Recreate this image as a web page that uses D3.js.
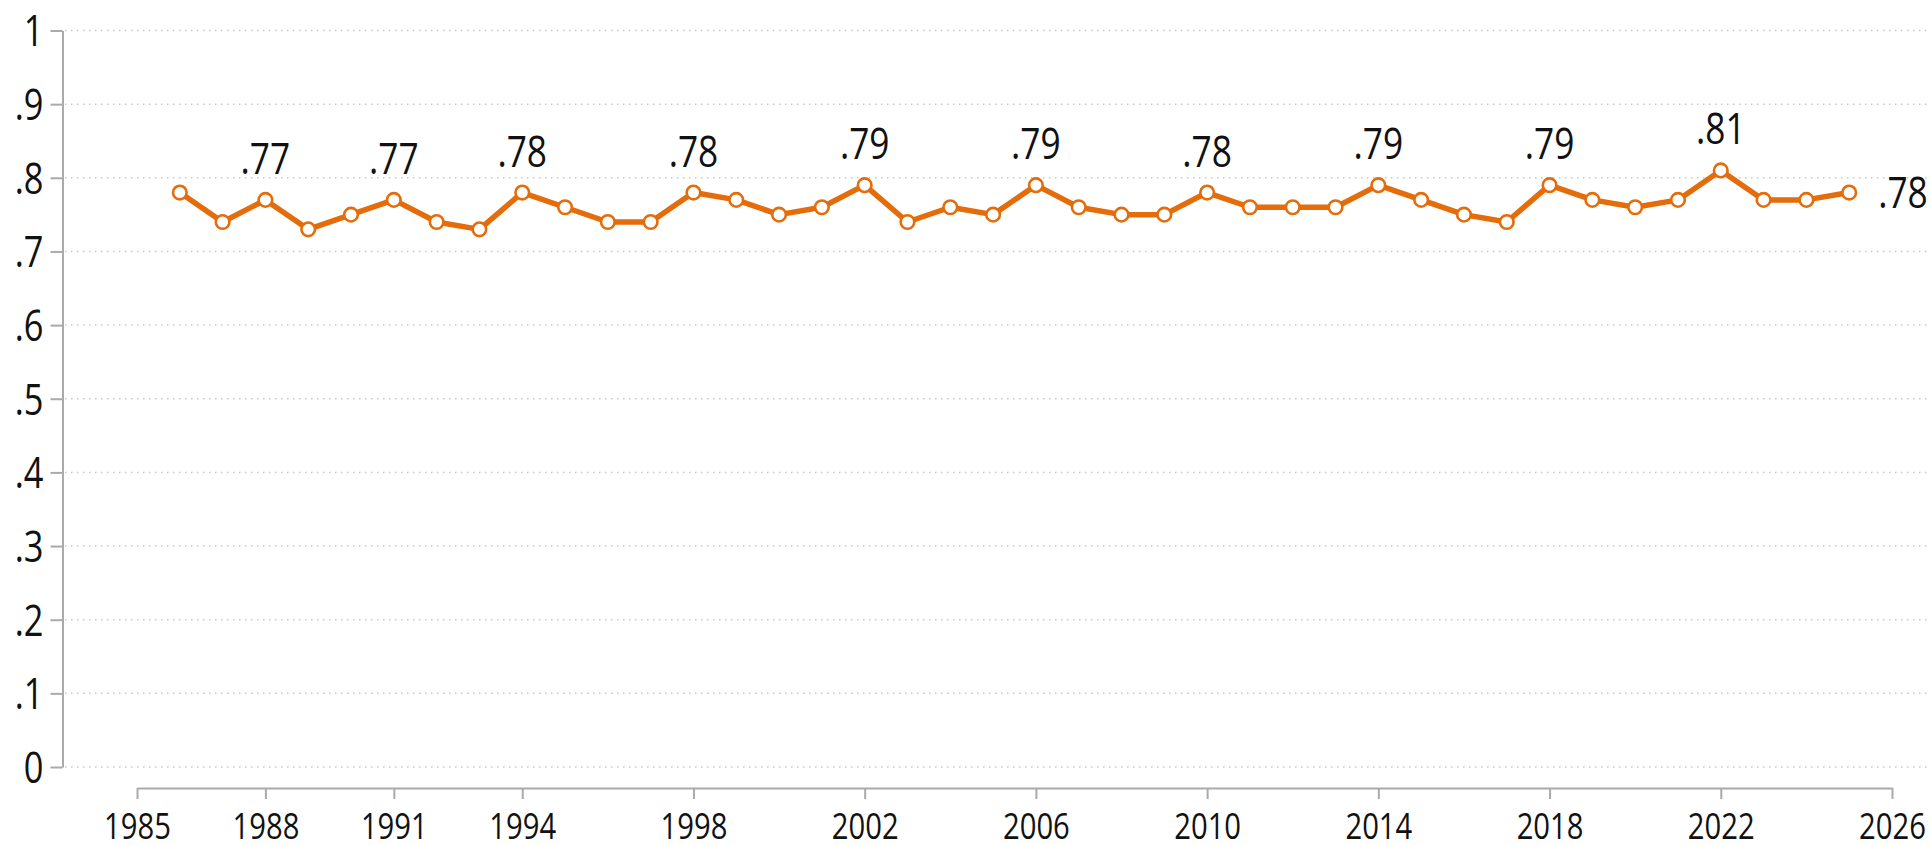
<!DOCTYPE html>
<html>
<head>
<meta charset="utf-8">
<script src="https://cdn.jsdelivr.net/npm/d3@7"></script>
<style>
  body { margin: 0; background: #fff; }
  text { font-family: "Open Sans", "Noto Sans", sans-serif; fill: #111; }
</style>
</head>
<body>
<div id="chart"></div>
<script>
const years = d3.range(1986, 2026);
const values = [.78, .74, .77, .73, .75, .77, .74, .73, .78, .76,
                .74, .74, .78, .77, .75, .76, .79, .74, .76, .75,
                .79, .76, .75, .75, .78, .76, .76, .76, .79, .77,
                .75, .74, .79, .77, .76, .77, .81, .77, .77, .78];
const labelYears = [1988, 1991, 1994, 1998, 2002, 2006, 2010, 2014, 2018, 2022];
const endYear = 2025;
const xTicks = [1985, 1988, 1991, 1994, 1998, 2002, 2006, 2010, 2014, 2018, 2022, 2026];
const yTicks = [0, .1, .2, .3, .4, .5, .6, .7, .8, .9, 1];

const width = 1931;
const height = 845;
const orange = "#e46c0a";

const data = years.map((y, i) => ({year: y, value: values[i]}));

const svg = d3.select("#chart")
    .append("svg")
    .attr("width", width)
    .attr("height", height)
    .attr("viewBox", [0, 0, width, height]);

const x = d3.scaleLinear()
    .domain([1985, 2026])
    .range([137, 1892]);
const y = d3.scaleLinear()
    .domain([0, 1])
    .range([767, 30.5]);

const fmt = d => d === 0 ? "0" : d === 1 ? "1" : d3.format(".1f")(d).replace(/^0/, "");
const fmt2 = d => d3.format(".2f")(d).replace(/^0/, "");

// squeeze the text a bit, the original font is a condensed one
function condense(sel, k) {
    sel.each(function () {
        const w = this.getComputedTextLength();
        d3.select(this)
            .attr("textLength", w * k)
            .attr("lengthAdjust", "spacingAndGlyphs");
    });
}

// gridlines
svg.append("g")
    .selectAll("line")
    .data(yTicks)
    .join("line")
    .attr("x1", 65)
    .attr("x2", width)
    .attr("y1", d => y(d))
    .attr("y2", d => y(d))
    .attr("stroke", "#c8c8c8")
    .attr("stroke-width", 1.5)
    .attr("stroke-dasharray", "1.5,4.5");

// y axis
const yAxis = svg.append("g")
    .attr("transform", "translate(62.5,0)")
    .call(d3.axisLeft(y).tickValues(yTicks).tickFormat(fmt).tickSize(12).tickSizeOuter(0));
yAxis.select(".domain").attr("stroke", "#aaa").attr("stroke-width", 2);
yAxis.selectAll(".tick line").attr("stroke", "#aaa").attr("stroke-width", 2);
yAxis.selectAll(".tick text")
    .attr("x", -19)
    .attr("dy", "0.36em")
    .style("font-size", "43px")
    .attr("fill", "#111")
    .call(condense, 0.8);

// x axis
const xAxis = svg.append("g")
    .attr("transform", "translate(0,788)")
    .call(d3.axisBottom(x).tickValues(xTicks).tickFormat(d3.format("d")).tickSize(11).tickSizeOuter(0));
xAxis.select(".domain").attr("stroke", "#aaa").attr("stroke-width", 2);
xAxis.selectAll(".tick line").attr("stroke", "#aaa").attr("stroke-width", 2);
xAxis.selectAll(".tick text")
    .attr("y", 51)
    .attr("dy", null)
    .style("font-size", "37px")
    .attr("fill", "#111")
    .call(condense, 0.79);

// line
svg.append("path")
    .datum(data)
    .attr("fill", "none")
    .attr("stroke", orange)
    .attr("stroke-width", 5.5)
    .attr("stroke-linejoin", "round")
    .attr("d", d3.line().x(d => x(d.year)).y(d => y(d.value)));

// markers
svg.append("g")
    .selectAll("circle")
    .data(data)
    .join("circle")
    .attr("cx", d => x(d.year))
    .attr("cy", d => y(d.value))
    .attr("r", 6.8)
    .attr("fill", "#fff")
    .attr("stroke", orange)
    .attr("stroke-width", 2.6);

// value labels
svg.append("g")
    .selectAll("text")
    .data(data.filter(d => labelYears.includes(d.year)))
    .join("text")
    .attr("x", d => x(d.year))
    .attr("y", d => y(d.value) - 26)
    .attr("text-anchor", "middle")
    .style("font-size", "43px")
    .text(d => fmt2(d.value))
    .call(condense, 0.82);

const last = data.find(d => d.year === endYear);
svg.append("text")
    .attr("x", x(last.year) + 29)
    .attr("y", y(last.value))
    .attr("dy", "0.36em")
    .style("font-size", "43px")
    .text(fmt2(last.value))
    .call(condense, 0.82);
</script>
</body>
</html>
